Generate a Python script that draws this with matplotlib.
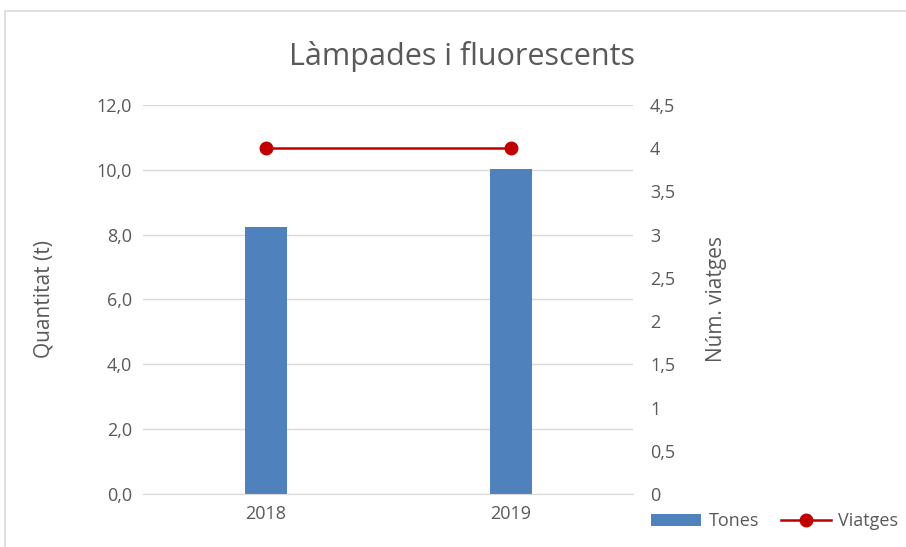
import matplotlib.pyplot as plt
from matplotlib.patches import Rectangle

# Data
years = ['2018', '2019']
tones = [8.24, 10.03]
viatges = [4, 4]

plt.rcParams['font.family'] = ['Open Sans', 'DejaVu Sans']
grey = '#595959'
bar_color = '#4F81BD'
line_color = '#C00000'

fig = plt.figure(figsize=(9.06, 5.47), dpi=100)
fig.patches.append(Rectangle((0.006, -0.01), 1.0, 0.99, transform=fig.transFigure,
                             fill=False, edgecolor='#D9D9D9', linewidth=1.2))

ax = fig.add_axes([0.158, 0.097, 0.541, 0.711])
x = range(len(years))
bars = ax.bar(x, tones, width=0.17, color=bar_color, label='Tones', zorder=2)
ax.set_xlim(-0.5, 1.5)
ax.set_ylim(0, 12)
ax.set_yticks([0, 2, 4, 6, 8, 10, 12])
ax.set_yticklabels([f'{v:.1f}'.replace('.', ',') for v in [0, 2, 4, 6, 8, 10, 12]])
ax.set_xticks(list(x))
ax.set_xticklabels(years)
ax.grid(axis='y', color='#D9D9D9', linewidth=1, zorder=0)
ax.set_axisbelow(True)
for s in ['top', 'left', 'right']:
    ax.spines[s].set_visible(False)
ax.spines['bottom'].set_color('#D9D9D9')
ax.tick_params(axis='both', length=0, colors=grey, labelsize=13, pad=8)
ax.set_ylabel('Quantitat (t)', color=grey, fontsize=15, labelpad=30)

ax2 = ax.twinx()
line, = ax2.plot(x, viatges, color=line_color, marker='o', markersize=9,
                 linewidth=1.8, label='Viatges', zorder=3)
ax2.set_ylim(0, 4.5)
rticks = [0, 0.5, 1, 1.5, 2, 2.5, 3, 3.5, 4, 4.5]
ax2.set_yticks(rticks)
ax2.set_yticklabels([f'{v:g}'.replace('.', ',') for v in rticks])
for s in ['top', 'left', 'right', 'bottom']:
    ax2.spines[s].set_visible(False)
ax2.tick_params(axis='y', length=0, colors=grey, labelsize=13, pad=12)
ax2.set_ylabel('Núm. viatges', color=grey, fontsize=15, labelpad=22)

fig.suptitle('Làmpades i fluorescents', x=0.51, y=0.925, fontsize=22, color=grey)

fig.legend(handles=[bars, line], labels=['Tones', 'Viatges'], loc='center',
           bbox_to_anchor=(0.855, 0.047), ncol=2, frameon=False, fontsize=13,
           labelcolor=grey, handlelength=2.8, columnspacing=1.2, handletextpad=0.4)

fig.savefig('out.png', dpi=100)
